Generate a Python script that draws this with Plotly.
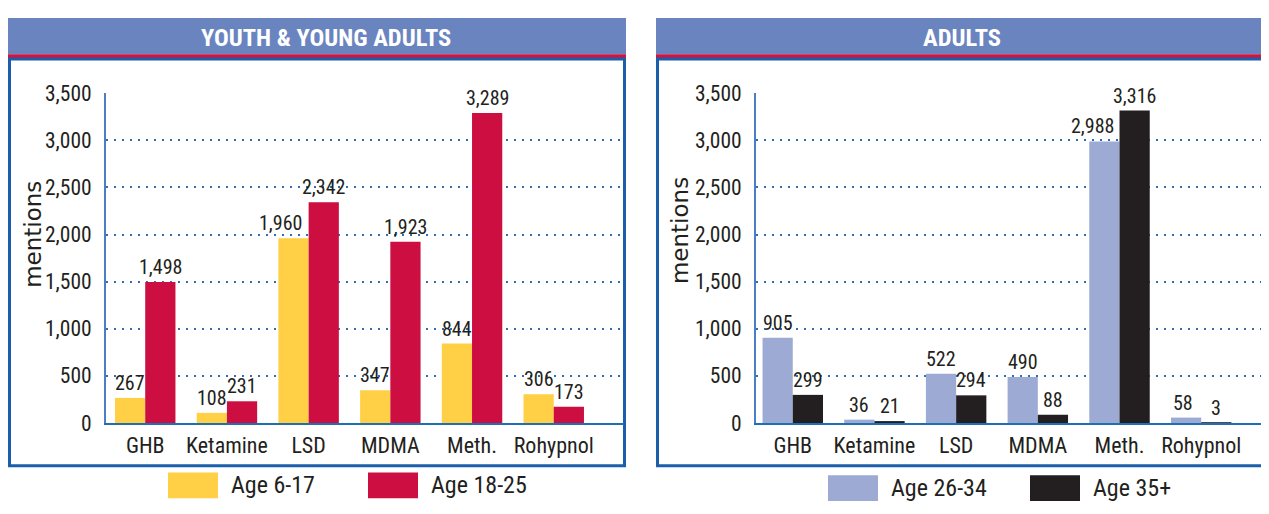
import plotly.graph_objects as go

# The page body has an 8px margin; the figure is placed at (8, 8) in the window
# and sized so that it reaches the right and bottom edges of the 1269x514 window.
OFF = 8
W, H = 1261, 506

drugs = ["GHB", "Ketamine", "LSD", "MDMA", "Meth.", "Rohypnol"]
youth_names = ["Age 6-17", "Age 18-25"]
age_6_17 = [267, 108, 1960, 347, 844, 306]
age_18_25 = [1498, 231, 2342, 1923, 3289, 173]
adult_names = ["Age 26-34", "Age 35+"]
age_26_34 = [905, 36, 522, 490, 2988, 58]
age_35_plus = [299, 21, 294, 88, 3316, 3]
y_ticks = [0, 500, 1000, 1500, 2000, 2500, 3000, 3500]
panel_titles = ["YOUTH & YOUNG ADULTS", "ADULTS"]

C_YELLOW = "#FFD045"
C_CRIMSON = "#CC0E40"
C_LAV = "#9DAAD3"
C_BLACK = "#231F20"
C_HEAD = "#6A84BF"
C_RED = "#D2123F"
C_BORDER = "#1B5EAB"
C_GRID = "#2F6DB5"
TXT = "#231F20"
FONT = "Liberation Sans Narrow, Roboto Condensed, DejaVu Sans Condensed, Arial Narrow, sans-serif"

BAR_HALF = 15.1          # half bar width in px (for placing value labels)
LABEL_NUDGE = {(0, "LSD"): -13, (2, "Meth."): -12, (2, "Rohypnol"): -3}


def X(px):
    return (px - OFF) / W


def Y(py):
    return 1 - (py - OFF) / H


fig = go.Figure()

series = [
    (age_6_17, youth_names[0], C_YELLOW, "x", "y", -1),
    (age_18_25, youth_names[1], C_CRIMSON, "x", "y", 1),
    (age_26_34, adult_names[0], C_LAV, "x2", "y2", -1),
    (age_35_plus, adult_names[1], C_BLACK, "x2", "y2", 1),
]
ann = []
for si, (vals, name, col, xa, ya, side) in enumerate(series):
    fig.add_trace(go.Bar(
        x=drugs, y=vals, name=name, marker=dict(color=col, line=dict(width=0)),
        xaxis=xa, yaxis=ya, showlegend=False,
    ))
    for d, v in zip(drugs, vals):
        ann.append(dict(
            text=f"{v:,}", x=d, y=v, xref=xa, yref=ya, showarrow=False,
            xanchor="center", yanchor="bottom", yshift=1,
            xshift=side * BAR_HALF + LABEL_NUDGE.get((si, d), 0),
            font=dict(family=FONT, size=20, color=TXT),
        ))

yaxis_common = dict(
    range=[0, 3500], tickvals=y_ticks, ticktext=[f"{v:,}" for v in y_ticks],
    showgrid=True, gridcolor=C_GRID, gridwidth=2, griddash="2px,6px",
    showline=True, linecolor="#4A80C2", linewidth=2,
    zeroline=False, ticks="", ticklabelstandoff=8,
    tickfont=dict(family=FONT, size=21.5, color=TXT),
    domain=[Y(432), Y(85)], fixedrange=True,
)
xaxis_common = dict(
    type="category", showgrid=False, showline=True, linecolor="#1F6FB5", linewidth=2,
    ticks="", ticklabelstandoff=2, tickfont=dict(family=FONT, size=22, color=TXT),
    fixedrange=True,
)

fig.update_layout(
    width=W, height=H, margin=dict(l=0, r=0, t=0, b=0),
    paper_bgcolor="white", plot_bgcolor="white",
    barmode="group", bargap=0.26, bargroupgap=0,
    xaxis=dict(xaxis_common, domain=[X(106), X(624)], range=[-0.48, 5.86], anchor="y"),
    yaxis=dict(yaxis_common, anchor="x"),
    xaxis2=dict(xaxis_common, domain=[X(756), 1.0], range=[-0.45, 5.83], anchor="y2"),
    yaxis2=dict(yaxis_common, anchor="x2"),
)

shapes = []
for (x0, x1, title, tx) in [(8, 626, panel_titles[0], 326),
                            (656, 1275, panel_titles[1], 962)]:
    shapes.append(dict(type="rect", xref="paper", yref="paper", x0=X(x0), x1=X(x1),
                       y0=Y(44), y1=Y(6), fillcolor=C_HEAD, line=dict(width=0), layer="below"))
    shapes.append(dict(type="rect", xref="paper", yref="paper", x0=X(x0), x1=X(x1),
                       y0=Y(49), y1=Y(44), fillcolor=C_RED, line=dict(width=0), layer="below"))
    shapes.append(dict(type="rect", xref="paper", yref="paper", x0=X(x0 + 1.5), x1=X(x1 - 1.5),
                       y0=Y(477), y1=Y(49), fillcolor="rgba(0,0,0,0)",
                       line=dict(color=C_BORDER, width=3), layer="below"))
    ann.append(dict(text=f"<b>{title}</b>", x=X(tx), y=Y(26), xref="paper", yref="paper",
                    showarrow=False, xanchor="center", yanchor="middle",
                    font=dict(family=FONT, size=24.5, color="white")))

for cx, cy in [(33, 234), (680, 230)]:
    ann.append(dict(text="mentions", x=X(cx), y=Y(cy), xref="paper", yref="paper",
                    showarrow=False, textangle=-90, xanchor="center", yanchor="middle",
                    font=dict(family="DejaVu Sans, sans-serif", size=23, color=TXT)))

legend_items = [
    (youth_names[0], C_YELLOW, 168, 484, 511),
    (youth_names[1], C_CRIMSON, 368, 484, 511),
    (adult_names[0], C_LAV, 828, 487, 514),
    (adult_names[1], C_BLACK, 1030, 487, 514),
]
for name, col, lx, ty, by in legend_items:
    shapes.append(dict(type="rect", xref="paper", yref="paper", x0=X(lx), x1=X(lx + 50),
                       y0=Y(by), y1=Y(ty), fillcolor=col, line=dict(width=0)))
    ann.append(dict(text=name, x=X(lx + 61), y=Y((ty + by) / 2), xref="paper", yref="paper",
                    showarrow=False, xanchor="left", yanchor="middle",
                    font=dict(family=FONT, size=24, color=TXT)))

fig.update_layout(shapes=shapes, annotations=ann)
fig.write_html("out.html")
